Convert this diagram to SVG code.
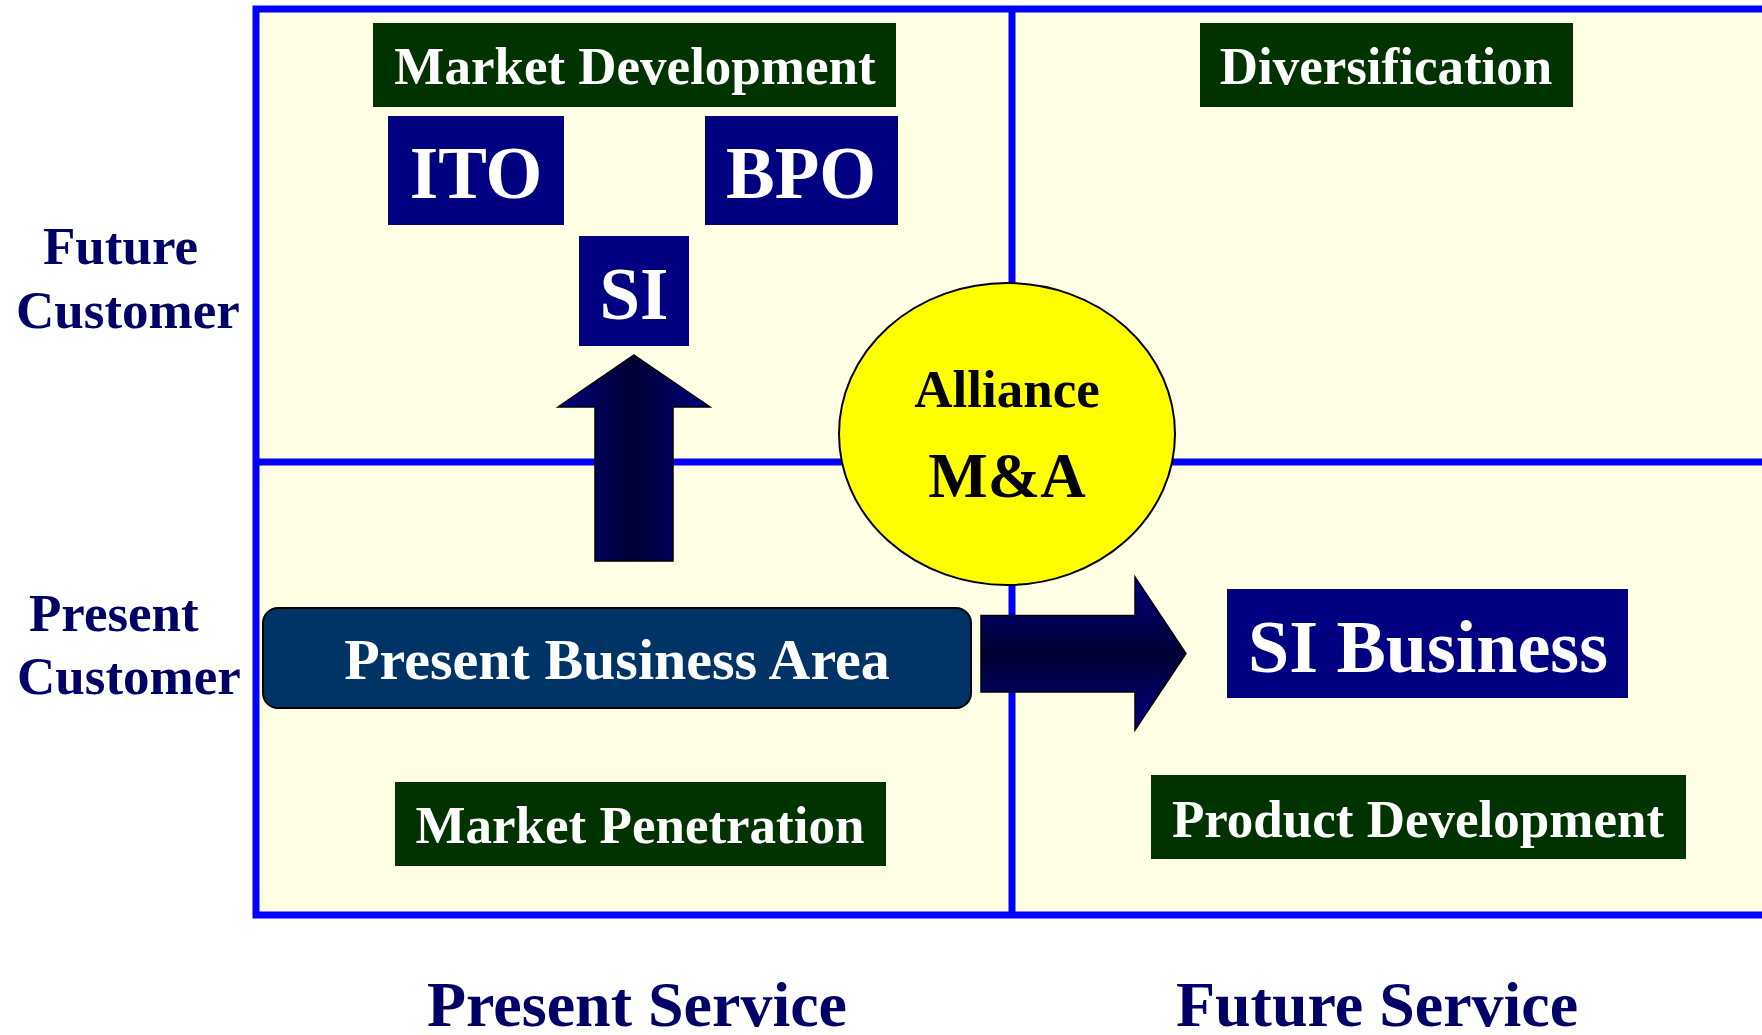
<svg xmlns="http://www.w3.org/2000/svg" width="1762" height="1035" viewBox="0 0 1762 1035">
<style>
text{font-family:"Liberation Serif","Times New Roman",serif;font-weight:bold}
.axis{fill:#000066;font-size:53px}
.axisb{fill:#000066;font-size:64px}
.g{fill:#003300}
.n{fill:#000080}
.wt{fill:#ffffff;text-anchor:middle}
.line{stroke:#0000ff;stroke-width:7;fill:none}
</style>
<defs>
<linearGradient id="gu" x1="0" y1="0" x2="1" y2="0">
<stop offset="0" stop-color="#000080"/><stop offset="0.5" stop-color="#000033"/><stop offset="1" stop-color="#000080"/>
</linearGradient>
<linearGradient id="gr" x1="0" y1="0" x2="0" y2="1">
<stop offset="0" stop-color="#000080"/><stop offset="0.5" stop-color="#000033"/><stop offset="1" stop-color="#000080"/>
</linearGradient>
</defs>
<rect width="1762" height="1035" fill="#ffffff"/>
<g id="frame">
<rect x="256" y="9" width="1520" height="906" fill="#ffffe6"/>
<rect x="256" y="9" width="1520" height="906" class="line"/>
<line x1="1012" y1="9" x2="1012" y2="915" class="line"/>
<line x1="256" y1="462" x2="1762" y2="462" class="line"/>
</g>
<g id="axis-labels">
<text class="axis" x="43" y="264">Future</text>
<text class="axis" x="16" y="328">Customer</text>
<text class="axis" x="29" y="631">Present</text>
<text class="axis" x="17" y="694">Customer</text>
<text class="axisb" x="637" y="1026" text-anchor="middle">Present Service</text>
<text class="axisb" x="1377" y="1026" text-anchor="middle">Future Service</text>
</g>
<g id="market-development">
<rect class="g" x="373" y="23" width="523" height="84"/>
<text class="wt" x="635" y="84" font-size="53">Market Development</text>
</g>
<g id="diversification">
<rect class="g" x="1200" y="23" width="373" height="84"/>
<text class="wt" x="1386" y="84" font-size="53">Diversification</text>
</g>
<g id="ito">
<rect class="n" x="388" y="116" width="176" height="109"/>
<text class="wt" x="476" y="198" font-size="73">ITO</text>
</g>
<g id="bpo">
<rect class="n" x="705" y="116" width="193" height="109"/>
<text class="wt" x="801" y="198" font-size="73">BPO</text>
</g>
<g id="si">
<rect class="n" x="579" y="236" width="110" height="110"/>
<text class="wt" x="634" y="319" font-size="73">SI</text>
</g>
<g id="connectors">
<polygon points="634,355 710,407 673,407 673,561 595,561 595,407 558,407" fill="url(#gu)" stroke="#000000" stroke-width="1.5"/>
<polygon points="981,615.5 1135,615.5 1135,577 1186,653.5 1135,730 1135,692 981,692" fill="url(#gr)" stroke="#000000" stroke-width="1.5"/>
</g>
<g id="alliance">
<ellipse cx="1007" cy="434" rx="168" ry="151" fill="#ffff00" stroke="#000000" stroke-width="2"/>
<text x="1007" y="407" font-size="53" text-anchor="middle" fill="#000000">Alliance</text>
<text x="1007" y="497" font-size="63" text-anchor="middle" fill="#000000">M&amp;A</text>
</g>
<g id="present-business-area">
<rect x="263" y="608" width="708" height="100" rx="15" fill="#003366" stroke="#000000" stroke-width="2"/>
<text class="wt" x="617" y="679" font-size="58">Present Business Area</text>
</g>
<g id="si-business">
<rect class="n" x="1227" y="589" width="401" height="109"/>
<text class="wt" x="1428" y="672" font-size="74">SI Business</text>
</g>
<g id="market-penetration">
<rect class="g" x="395" y="782" width="491" height="84"/>
<text class="wt" x="640" y="843" font-size="53">Market Penetration</text>
</g>
<g id="product-development">
<rect class="g" x="1151" y="775" width="535" height="84"/>
<text class="wt" x="1418" y="837" font-size="53">Product Development</text>
</g>
</svg>
